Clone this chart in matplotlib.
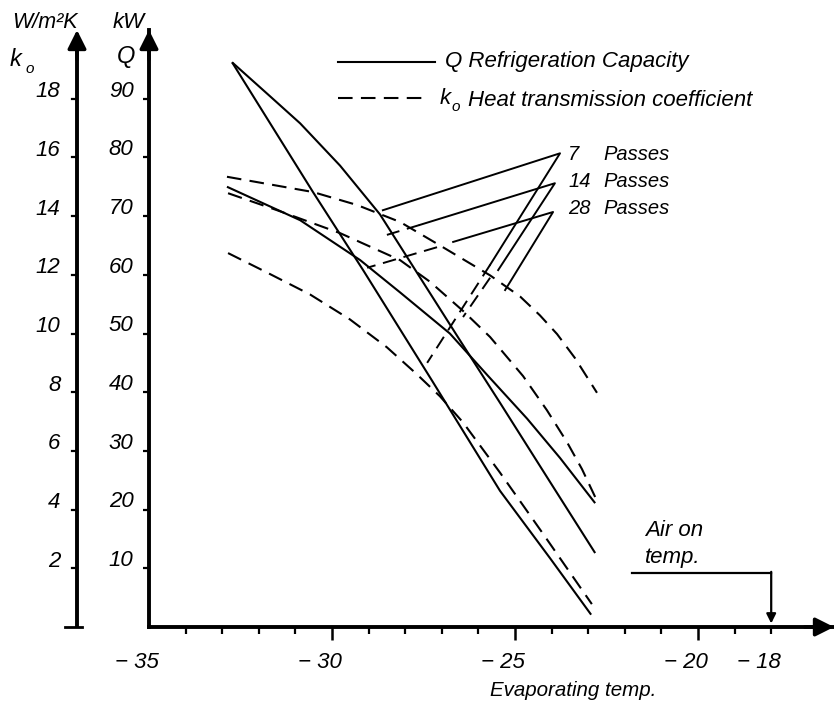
import matplotlib.pyplot as plt
from matplotlib.lines import Line2D

plt.rcParams['font.family'] = ['Liberation Sans', 'DejaVu Sans']
plt.rcParams['font.style'] = 'italic'

# ------------------------
# Curves (evaporating temp in deg C)
# ------------------------
# Q - refrigeration capacity (kW), solid lines
T_Q_A = [-32.73, -30.52, -29.15, -27.27, -25.41, -24.04, -22.92]
Q_A = [96.2, 74.1, 60.8, 42.0, 23.2, 11.7, 2.1]

T_Q_B = [-32.73, -31.69, -30.87, -29.78, -28.69, -27.60, -26.51, -25.41, -23.96, -22.81]
Q_B = [96.2, 90.4, 85.8, 78.6, 70.3, 59.6, 48.9, 38.2, 23.9, 12.6]

T_Q_C = [-32.87, -30.87, -29.23, -28.14, -26.78, -25.74, -24.67, -23.77, -22.81]
Q_C = [75.0, 69.3, 62.5, 57.0, 50.0, 42.8, 35.5, 28.8, 21.1]

# ko - heat transmission coefficient (W/m2K), dashed lines
T_K_A = [-32.87, -30.52, -29.32, -28.14, -27.05, -25.68, -24.86, -24.32, -23.85, -23.36, -22.76]
K_A = [15.34, 14.82, 14.38, 13.80, 13.00, 11.98, 11.26, 10.62, 9.98, 9.16, 7.98]

T_K_B = [-32.84, -31.50, -29.78, -28.14, -27.32, -26.42, -25.68, -24.78, -24.13, -23.58, -23.17, -22.81]
K_B = [14.78, 14.20, 13.42, 12.50, 11.76, 10.77, 9.88, 8.55, 7.39, 6.30, 5.38, 4.43]

T_K_C = [-32.84, -31.78, -30.60, -29.51, -28.50, -27.68, -27.05, -26.42, -25.41, -24.23, -22.90]
K_C = [12.74, 12.08, 11.33, 10.48, 9.53, 8.61, 7.86, 6.97, 5.26, 3.17, 0.78]

K_TO_Q = 5  # both scales share one vertical axis: 18 W/m2K sits level with 90 kW

Q_TICKS = [10, 20, 30, 40, 50, 60, 70, 80, 90]
K_TICKS = [2, 4, 6, 8, 10, 12, 14, 16, 18]
T_LABELS = [-35, -30, -25, -20, -18]
AIR_ON_TEMP = -18

# leader lines from the "Passes" labels (temp, kW)
PASSES = ["7", "14", "28"]
LEAD_SOLID = [
    ([-28.61, -23.77, -25.68], [71.0, 80.7, 61.7]),
    ([-27.60, -23.91, -25.46], [68.5, 75.6, 60.8]),
    ([-26.69, -23.96, -25.27], [65.6, 70.7, 57.4]),
]
LEAD_DASHED = [
    ([-25.68, -27.40], [61.7, 45.0]),
    ([-27.60, -28.50], [68.5, 66.8]),
    ([-25.68, -26.42], [59.5, 52.8]),
    ([-27.13, -29.04], [64.7, 61.2]),
]

# ------------------------
# Figure / axes
# ------------------------
W, H = 834, 710
fig = plt.figure(figsize=(W / 100, H / 100), dpi=100)
ax = fig.add_axes([149 / W, 83 / H, 685 / W, 597 / H])
X_MIN, X_MAX = -35, -35 + 685 / 36.6
Y_TOP = 597 / 5.87
ax.set_xlim(X_MIN, X_MAX)
ax.set_ylim(0, Y_TOP)


def fx(px):
    return px / W


def fy(py):
    return 1 - py / H


DASH = (0, (7, 4))
LW = 1.5
FS = 16

for t, q in [(T_Q_A, Q_A), (T_Q_B, Q_B), (T_Q_C, Q_C)]:
    ax.plot(t, q, color='k', lw=LW, solid_capstyle='butt')
for t, k in [(T_K_A, K_A), (T_K_B, K_B), (T_K_C, K_C)]:
    ax.plot(t, [v * K_TO_Q for v in k], color='k', lw=LW, ls=DASH)

for t, q in LEAD_SOLID:
    ax.plot(t, q, color='k', lw=1.4)
for t, q in LEAD_DASHED:
    ax.plot(t, q, color='k', lw=1.4, ls=DASH)

# axes lines
for s in ['top', 'right']:
    ax.spines[s].set_visible(False)
ax.spines['left'].set_linewidth(2.8)
ax.spines['bottom'].set_linewidth(2.8)

ax.set_xticks([t for t in range(-34, -17) if t not in (-30, -25, -20)], minor=True)
ax.set_xticks([-30, -25, -20])
ax.tick_params(axis='x', which='major', length=9, width=1.8, labelbottom=False)
ax.tick_params(axis='x', which='minor', length=5, width=1.6)
ax.set_yticks(Q_TICKS)
ax.tick_params(axis='y', length=4, width=1.6, labelleft=False)

arrow = dict(arrowstyle='-|>', mutation_scale=28, color='k', lw=2.5, shrinkA=0, shrinkB=0)
ax.annotate('', xy=(X_MAX, 0), xytext=(X_MAX - 0.8, 0), arrowprops=arrow, annotation_clip=False)
ax.annotate('', xy=(-35, Y_TOP), xytext=(-35, Y_TOP - 5), arrowprops=arrow, annotation_clip=False)

# k axis, further left
KX = -35 + (77 - 149) / 36.6
ax.plot([KX, KX], [0, Y_TOP - 3], color='k', lw=2.8, clip_on=False, solid_capstyle='butt')
ax.plot([KX - 0.33, KX + 0.13], [0, 0], color='k', lw=2.0, clip_on=False)
ax.annotate('', xy=(KX, Y_TOP), xytext=(KX, Y_TOP - 5), arrowprops=arrow, annotation_clip=False)
for k in K_TICKS:
    ax.plot([KX - 0.14, KX], [k * K_TO_Q] * 2, color='k', lw=1.6, clip_on=False)
    ax.text(KX - 0.45, k * K_TO_Q + 1.2, str(k), ha='right', va='center', fontsize=FS)
for q in Q_TICKS:
    ax.text(-35 - 0.42, q + 1.3, str(q), ha='right', va='center', fontsize=FS)

for t in T_LABELS:
    ax.text(t - 0.33, -6.0, '\u2212 ' + str(-t), ha='center', va='center', fontsize=FS,
            clip_on=False)

# air on temperature marker
ax.plot([-21.80, AIR_ON_TEMP], [9.2, 9.2], color='k', lw=1.6)
ax.annotate('', xy=(AIR_ON_TEMP, 0.6), xytext=(AIR_ON_TEMP, 9.4),
            arrowprops=dict(arrowstyle='-|>', mutation_scale=14, color='k', lw=1.6,
                            shrinkA=0, shrinkB=0))
fig.text(fx(645), fy(530), 'Air on', ha='left', va='center', fontsize=16)
fig.text(fx(645), fy(557), 'temp.', ha='left', va='center', fontsize=16)

fig.text(fx(490), fy(690), 'Evaporating temp.', ha='left', va='center', fontsize=14.8)

# axis headers
fig.text(fx(12), fy(22), 'W/m\u00b2K', ha='left', va='center', fontsize=15.5)
fig.text(fx(113), fy(22), 'kW', ha='left', va='center', fontsize=16)
fig.text(fx(10), fy(60), 'k', ha='left', va='center', fontsize=17)
fig.text(fx(26), fy(69), 'o', ha='left', va='center', fontsize=11)
fig.text(fx(117), fy(56), 'Q', ha='left', va='center', fontsize=17)

# legend
fig.add_artist(Line2D([fx(338), fx(435)], [fy(62), fy(62)], color='k', lw=1.5))
fig.text(fx(445), fy(62), 'Q Refrigeration Capacity', ha='left', va='center', fontsize=FS)
fig.add_artist(Line2D([fx(338), fx(428)], [fy(98), fy(98)], color='k', lw=1.5, ls=DASH))
fig.text(fx(440), fy(99), 'k', ha='left', va='center', fontsize=FS)
fig.text(fx(452), fy(107), 'o', ha='left', va='center', fontsize=11)
fig.text(fx(468), fy(100), 'Heat transmission coefficient', ha='left', va='center', fontsize=FS)

# passes labels
for i, n in enumerate(PASSES):
    y = fy(155 + 26.5 * i)
    fig.text(fx(568), y, n, ha='left', va='center', fontsize=14.5)
    fig.text(fx(603), y, 'Passes', ha='left', va='center', fontsize=14.5)

fig.savefig('out.png', dpi=100)
